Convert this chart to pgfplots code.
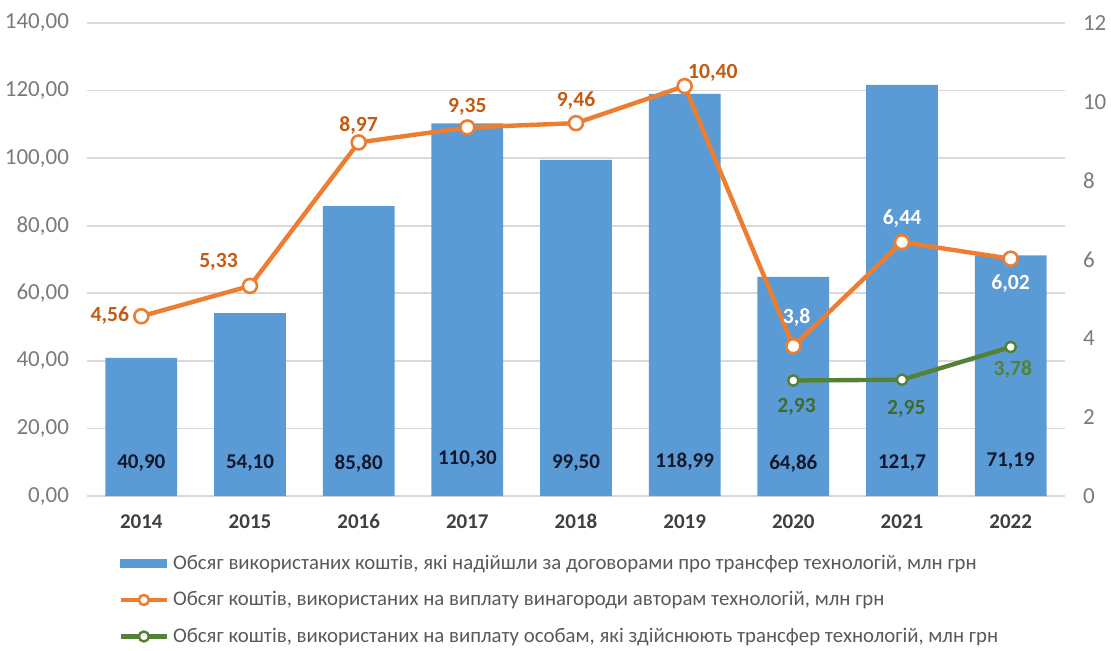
\documentclass[border=0pt]{standalone}
\usepackage{pgfplots}
\pgfplotsset{compat=1.18}
\usepackage{fontspec}
\setmainfont{Carlito}

\definecolor{barblue}{HTML}{5B9BD5}
\definecolor{lineorange}{HTML}{ED7D31}
\definecolor{labelorange}{HTML}{C55A11}
\definecolor{linegreen}{HTML}{548235}
\definecolor{labelgreen}{HTML}{3F6B2E}
\definecolor{barlabel}{HTML}{14182E}
\definecolor{tickgray}{HTML}{7A7A7A}
\definecolor{legendgray}{HTML}{595959}
\definecolor{yeargray}{HTML}{404040}
\definecolor{gridgray}{HTML}{D9D9D9}

\begin{document}
\begin{tikzpicture}[x=1pt,y=1pt]
\useasboundingbox (-43.5,-77) rectangle (512,248);

% left axis: bars
\begin{axis}[
    at={(0,0)}, anchor=south west,
    scale only axis,
    width=489pt, height=236.5pt,
    xmin=-0.5, xmax=8.5,
    ymin=0, ymax=140,
    axis x line*=bottom, axis y line*=left,
    axis line style={draw=none},
    tick style={draw=none},
    ytick={0,20,...,140},
    xtick={0,...,8},
    xticklabels={2014,2015,2016,2017,2018,2019,2020,2021,2022},
    ymajorgrids,
    grid style={gridgray, line width=0.8pt},
    yticklabel style={font=\fontsize{11.5}{13}\selectfont, text=tickgray, xshift=-5.5pt,
        /pgf/number format/.cd, fixed, fixed zerofill, precision=2, use comma, assume math mode=true},
    xticklabel style={font=\fontsize{10.5}{12}\selectfont\bfseries, text=yeargray, yshift=-5pt,
        text height=1.6ex, text depth=0pt},
]
\addplot[ybar, bar width=0.66, fill=barblue, draw=none] coordinates {
    (0,40.90) (1,54.10) (2,85.80) (3,110.30) (4,99.50) (5,118.99) (6,64.86) (7,121.7) (8,71.19)
};
% bar value labels, set low inside the bars
\addplot[draw=none, mark=none, nodes near coords, point meta=explicit symbolic,
    every node near coord/.style={anchor=center, font=\fontsize{10.5}{12}\selectfont\bfseries, text=barlabel}]
    table[meta=lab] {
x y lab
0 9.8 {40,90}
1 9.8 {54,10}
2 9.5 {85,80}
3 10.8 {110,30}
4 9.8 {99,50}
5 10.3 {118,99}
6 9.5 {64,86}
7 9.8 {121,7}
8 10.3 {71,19}
};
\end{axis}

% right axis: lines
\begin{axis}[
    at={(0,0)}, anchor=south west,
    scale only axis,
    width=489pt, height=236.5pt,
    xmin=-0.5, xmax=8.5,
    ymin=0, ymax=12,
    axis x line=none, axis y line*=right,
    axis line style={draw=none},
    tick style={draw=none},
    ytick={0,2,...,12},
    yticklabel style={font=\fontsize{11.5}{13}\selectfont, text=tickgray, xshift=5.5pt,
        /pgf/number format/assume math mode=true},
    legend cell align=left,
    legend style={at={(axis description cs:0.032,-0.115)}, anchor=north west,
        draw=none, fill=none, row sep=5.6pt, inner sep=0pt,
        font=\fontsize{10.4}{12}\selectfont, text=legendgray},
]
\addlegendimage{legend image code/.code={\fill[barblue] (0pt,-2pt) rectangle (23pt,2pt);}}
\addlegendentry{Обсяг використаних коштів, які надійшли за договорами про трансфер технологій, млн грн}

\addplot[lineorange, line width=2.2pt, mark=*, mark size=3.5pt,
    mark options={fill=white, draw=lineorange, line width=1.3pt},
    legend image code/.code={\draw[mark repeat=2, mark phase=2, mark size=2.5pt] plot coordinates {(0pt,0pt) (11.5pt,0pt) (23pt,0pt)};}]
    coordinates {
    (0,4.56) (1,5.33) (2,8.97) (3,9.35) (4,9.46) (5,10.40) (6,3.8) (7,6.44) (8,6.02)
};
\addlegendentry{Обсяг коштів, використаних на виплату винагороди авторам технологій, млн грн}

\addplot[linegreen, line width=2.2pt, mark=*, mark size=2.6pt,
    mark options={fill=white, draw=linegreen, line width=1.2pt},
    legend image code/.code={\draw[mark repeat=2, mark phase=2, mark size=2.5pt] plot coordinates {(0pt,0pt) (11.5pt,0pt) (23pt,0pt)};}]
    coordinates {
    (6,2.93) (7,2.95) (8,3.78)
};
\addlegendentry{Обсяг коштів, використаних на виплату особам, які здійснюють трансфер технологій, млн грн}

% orange value labels
\addplot[forget plot, draw=none, mark=none, nodes near coords, point meta=explicit symbolic,
    every node near coord/.style={anchor=center, font=\fontsize{10.8}{12}\selectfont\bfseries, text=labelorange}]
    table[meta=lab] {
x y lab
-0.29 4.57 {4,56}
0.71 5.94 {5,33}
2 9.41 {8,97}
3 9.87 {9,35}
4 10.02 {9,46}
5.26 10.73 {10,40}
};
% white labels on the bars
\addplot[forget plot, draw=none, mark=none, nodes near coords, point meta=explicit symbolic,
    every node near coord/.style={anchor=center, font=\fontsize{10.8}{12}\selectfont\bfseries, text=white}]
    table[meta=lab] {
x y lab
6.03 4.52 {3,8}
7 7.05 {6,44}
8 5.40 {6,02}
};
% green value labels
\addplot[forget plot, draw=none, mark=none, nodes near coords, point meta=explicit symbolic,
    every node near coord/.style={anchor=center, font=\fontsize{10.8}{12}\selectfont\bfseries, text=labelgreen}]
    table[meta=lab] {
x y lab
6.03 2.26 {2,93}
7.04 2.21 {2,95}
};
\addplot[forget plot, draw=none, mark=none, nodes near coords, point meta=explicit symbolic,
    every node near coord/.style={anchor=center, font=\fontsize{10.8}{12}\selectfont\bfseries, text=linegreen}]
    table[meta=lab] {
x y lab
8.02 3.22 {3,78}
};
\end{axis}
\end{tikzpicture}
\end{document}
